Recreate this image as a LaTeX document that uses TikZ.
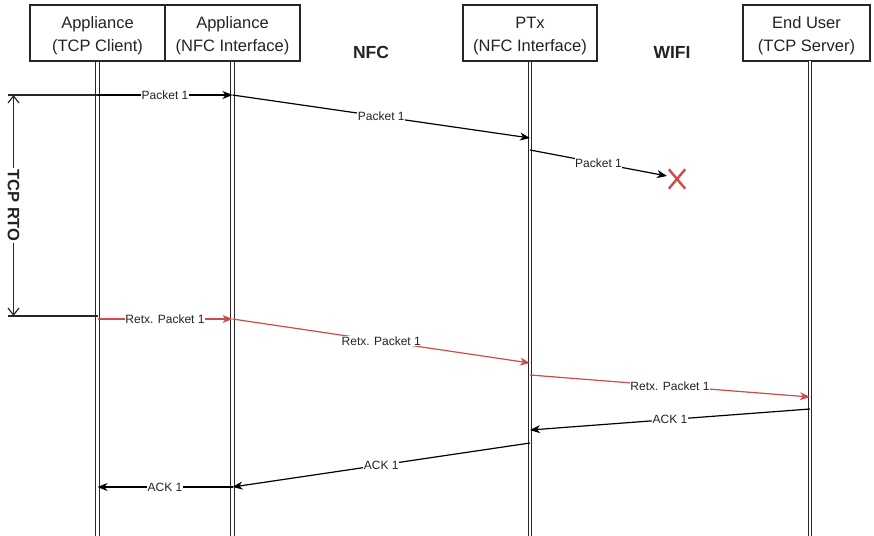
\documentclass[tikz,border=0pt]{standalone}
\usepackage{fontspec}
\setmainfont{Liberation Sans}
\usetikzlibrary{arrows.meta,shapes.misc}
\definecolor{retx}{RGB}{208,74,74}
\definecolor{txt}{RGB}{35,35,35}
\begin{document}
\begin{tikzpicture}[x=1pt,y=-1pt,
 header/.style={draw=black!85, line width=1.1pt, minimum width=135pt, minimum height=56pt, inner sep=0pt},
 htext/.style={align=center, inner sep=0pt, font=\fontsize{16.5}{23.5}\selectfont, text=txt},
 lifeline/.style={draw=black!85, line width=1.1pt, double=white, double distance=2.4pt},
 msg/.style={draw=black, line width=1.2pt, -{Stealth[length=10pt,width=8pt,inset=3pt]}},
 retxmsg/.style={msg, draw=retx},
 lbl/.style={fill=white, inner sep=0.6pt, font=\fontsize{12}{14}\selectfont, text=txt},
 zone/.style={font=\bfseries\fontsize{17.5}{20}\selectfont, text=txt},
 rto/.style={draw=black!85, line width=1.2pt},
 lost/.style={cross out, draw=retx, line width=2.4pt, minimum width=14pt, minimum height=17pt, inner sep=0pt}
]
\useasboundingbox (0,0) rectangle (874,535);

% headers
\node[header] (h1) at (97.5,33) {};
\node[header] (h2) at (232.5,33) {};
\node[header, minimum width=134pt] (h3) at (530,33) {};
\node[header, minimum width=127pt] (h4) at (806.5,33) {};
\node[htext] (t1) at (97.5,35.8) {Appliance\\(TCP Client)};
\node[htext] (t2) at (232.5,35.8) {Appliance\\(NFC Interface)};
\node[htext] (t3) at (530,35.8) {PTx\\(NFC Interface)};
\node[htext] (t4) at (806.5,35.8) {End User\\(TCP Server)};

\node[zone] (nfc) at (371,52) {NFC};
\node[zone] (wifi) at (672,52) {WIFI};

% lifelines
\coordinate (e1) at (97.5,536);
\coordinate (e2) at (232.5,536);
\coordinate (e3) at (530,536);
\coordinate (e4) at (810,536);
\coordinate (s4) at (810,61);
\draw[lifeline] (h1.south) -- (e1);
\draw[lifeline] (h2.south) -- (e2);
\draw[lifeline] (h3.south) -- (e3);
\draw[lifeline] (s4) -- (e4);

% message end points
\coordinate (m1a) at (97.5,95);
\coordinate (m1b) at (232.5,95);
\coordinate (m2b) at (530,138);
\coordinate (m3a) at (530,150);
\coordinate (m3b) at (667,176);
\coordinate (r1a) at (97.5,319);
\coordinate (r1b) at (232.5,319);
\coordinate (r2b) at (530,363);
\coordinate (r3a) at (530,375);
\coordinate (r3b) at (810,397);
\coordinate (k1a) at (810,409);
\coordinate (k1b) at (530,430);
\coordinate (k2a) at (530,443);
\coordinate (k2b) at (232.5,487);
\coordinate (k3b) at (97.5,487);

% RTO bracket
\coordinate (rtoT) at (8,95);
\coordinate (rtoB) at (8,316);
\coordinate (rtoBx) at (97.5,316);
\coordinate (rtoA) at (13.5,95);
\coordinate (rtoZ) at (13.5,316);
\draw[rto] (rtoT) -- (m1a);
\draw[rto] (rtoB) -- (rtoBx);
\draw[rto, {Straight Barb[length=7pt,width=11pt]}-{Straight Barb[length=7pt,width=11pt]}] (rtoA) -- node[fill=white, inner sep=1pt, rotate=-90, font=\bfseries\fontsize{16.5}{20}\selectfont, text=txt] (rtolbl) {TCP RTO} (rtoZ);

% lost marker
\node[lost] (x) at (677,179) {};

% messages
\draw[msg] (m1a) -- node[lbl] (l1) {Packet 1} (m1b);
\draw[msg] (m1b) -- node[lbl] (l2) {Packet 1} (m2b);
\draw[msg] (m3a) -- node[lbl] (l3) {Packet 1} (m3b);

\draw[retxmsg] (r1a) -- node[lbl] (l4) {Retx. Packet 1} (r1b);
\draw[retxmsg] (r1b) -- node[lbl] (l5) {Retx. Packet 1} (r2b);
\draw[retxmsg] (r3a) -- node[lbl] (l6) {Retx. Packet 1} (r3b);

\draw[msg] (k1a) -- node[lbl] (l7) {ACK 1} (k1b);
\draw[msg] (k2a) -- node[lbl] (l8) {ACK 1} (k2b);
\draw[msg] (k2b) -- node[lbl] (l9) {ACK 1} (k3b);
\end{tikzpicture}
\end{document}
